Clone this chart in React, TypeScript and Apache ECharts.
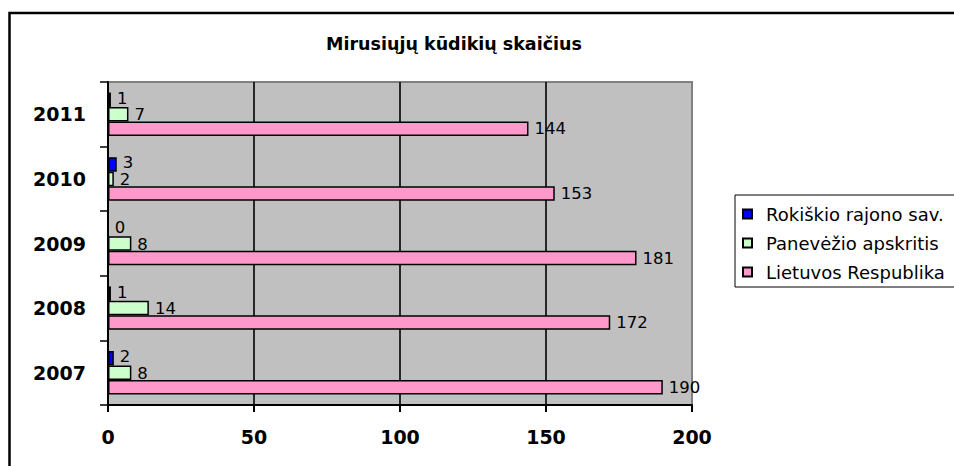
import React, { useEffect, useRef } from "react";
import * as echarts from "echarts";

const years = ["2007", "2008", "2009", "2010", "2011"];
const rokiskio = [2, 1, 0, 3, 1];
const panevezio = [8, 14, 8, 2, 7];
const lietuvos = [190, 172, 181, 153, 144];
const seriesNames = ["Rokiškio rajono sav.", "Panevėžio apskritis", "Lietuvos Respublika"];
const seriesColors = ["#0000FF", "#CCFFCC", "#FF99CC"];
const labelOffsets = [[0, -1.5], [0, 0.5], [0, 0]];
const xTicks = [0, 50, 100, 150, 200];

export default function App() {
  const ref = useRef<HTMLDivElement>(null);
  useEffect(() => {
    if (!ref.current) return;
    const chart = echarts.init(ref.current, null, { renderer: "svg" });
    const values = [rokiskio, panevezio, lietuvos];
    chart.setOption({
      animation: false,
      backgroundColor: "#ffffff",
      title: {
        text: "Mirusiųjų kūdikių skaičius",
        left: 449,
        top: 30,
        textAlign: "center",
        textStyle: { fontFamily: "DejaVu Sans", fontWeight: "bold", fontSize: 17.5, color: "#000" },
      },
      legend: {
        orient: "vertical",
        left: 735,
        top: 195,
        padding: [10, 40, 6, 7],
        itemGap: 11,
        itemWidth: 9,
        itemHeight: 9,
        borderColor: "#000",
        borderWidth: 1,
        icon: "rect",
        data: seriesNames,
        textStyle: {
          fontFamily: "DejaVu Sans",
          fontSize: 18,
          color: "#000",
          lineHeight: 18,
          padding: [0, 0, 0, 9],
        },
      },
      grid: {
        left: 108,
        right: 262,
        top: 82,
        bottom: 61,
        show: true,
        backgroundColor: "#C0C0C0",
        borderColor: "#808080",
        borderWidth: 2,
      },
      xAxis: {
        type: "value",
        min: xTicks[0],
        max: xTicks[xTicks.length - 1],
        interval: 50,
        axisLine: { show: true, lineStyle: { color: "#000", width: 2 } },
        axisTick: { show: true, length: 7, lineStyle: { color: "#000", width: 2 } },
        axisLabel: {
          margin: 22,
          fontFamily: "DejaVu Sans",
          fontWeight: "bold",
          fontSize: 19,
          color: "#000",
        },
        splitLine: {
          show: true,
          showMinLine: false,
          showMaxLine: false,
          lineStyle: { color: "#000", width: 1.6 },
        },
      },
      yAxis: {
        type: "category",
        data: years,
        axisLine: { show: true, lineStyle: { color: "#000", width: 2 } },
        axisTick: { show: true, length: 8, lineStyle: { color: "#000", width: 1.5 } },
        axisLabel: {
          margin: 22,
          fontFamily: "DejaVu Sans",
          fontWeight: "bold",
          fontSize: 19,
          color: "#000",
        },
        splitLine: { show: false },
      },
      series: seriesNames.map((name, i) => ({
        name,
        type: "bar",
        data: values[i],
        barWidth: 14.5,
        barGap: "0%",
        itemStyle: { color: seriesColors[i], borderColor: "#000", borderWidth: 1.5 },
        label: {
          show: true,
          position: "right",
          distance: 6,
          offset: labelOffsets[i],
          fontFamily: "DejaVu Sans",
          fontSize: 16.5,
          lineHeight: 13,
          color: "#000",
        },
      })),
      graphic: [
        {
          type: "rect",
          shape: { x: 9.5, y: 13, width: 1000, height: 500 },
          style: { fill: "none", stroke: "#000", lineWidth: 2.5 },
          silent: true,
          z: 100,
        },
      ],
    });
    return () => chart.dispose();
  }, []);
  return (
    <div
      ref={ref}
      style={{ position: "fixed", left: 0, top: 0, width: 954, height: 466 }}
    />
  );
}
